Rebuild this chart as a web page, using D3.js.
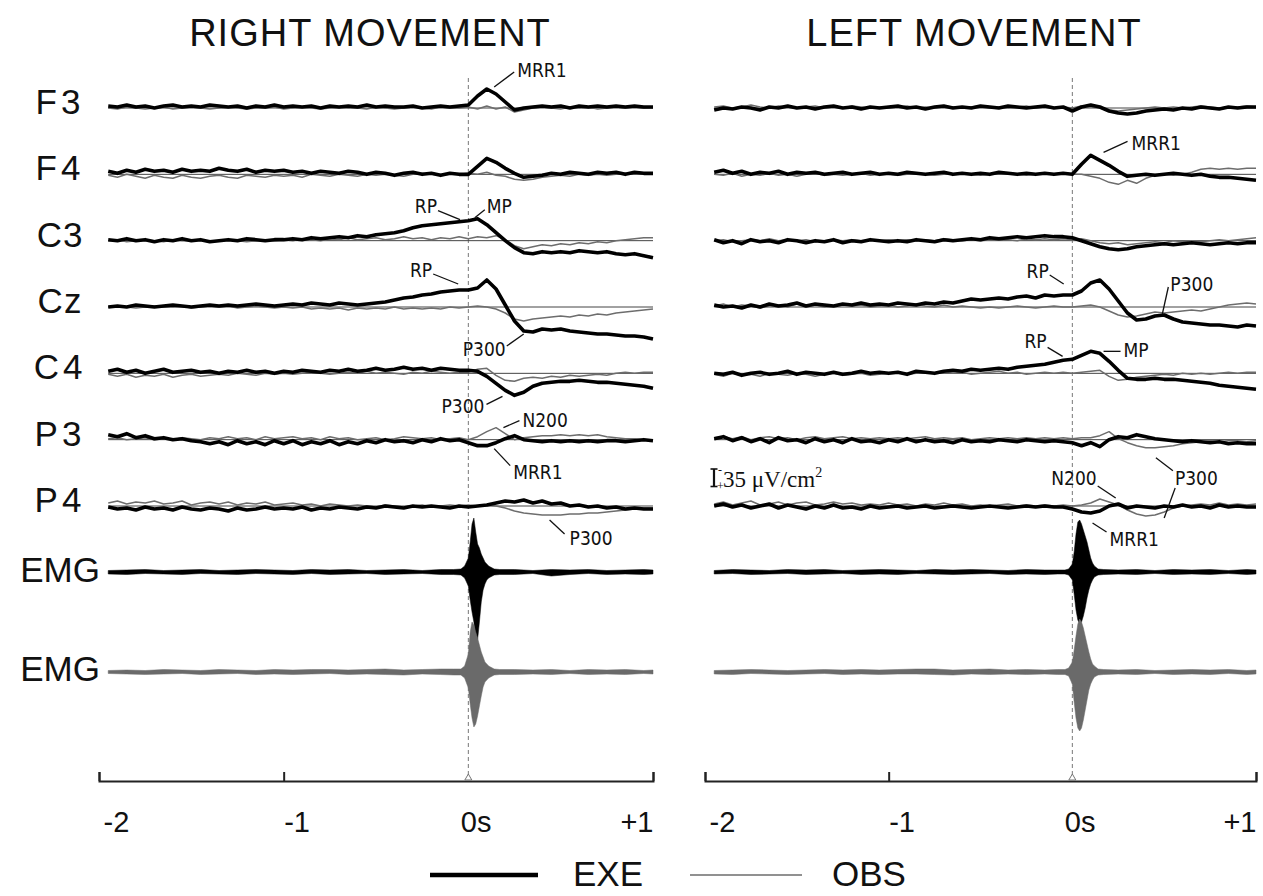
<!DOCTYPE html>
<html>
<head>
<meta charset="utf-8">
<script src="https://cdn.jsdelivr.net/npm/d3@7"></script>
<style>
html,body{margin:0;padding:0;background:#fff;}
svg{display:block;}
.title{font-family:"Liberation Sans",Arial,sans-serif;font-size:38px;letter-spacing:1px;fill:#111;}
.chan{font-family:"Liberation Sans",Arial,sans-serif;font-size:35px;fill:#111;}
.ann{font-family:"Liberation Sans Narrow","Arial Narrow","DejaVu Sans Condensed",sans-serif;font-size:19px;fill:#111;}
.taxis .tick text{font-family:"Liberation Sans",Arial,sans-serif;font-size:29px;fill:#111;}
.legend{font-family:"Liberation Sans",Arial,sans-serif;font-size:35px;fill:#111;}
.scalebar{font-family:"Liberation Serif","Times New Roman",serif;fill:#111;}
</style>
</head>
<body>
<svg id="chart" width="1263" height="896"></svg>
<script>
// ---------------- DATA ----------------
const channels = ["F3","F4","C3","Cz","C4","P3","P4"];
// EEG sample times (s): -1.95 ... 1.00, every 0.05 s
const times = d3.range(60).map(i => +(-1.95 + 0.05 * i).toFixed(2));
const tickValues = [-2, -1, 0, 1];
const tickLabels = ["-2", "-1", "0s", "+1"];

// Values in µV/cm², negative drawn upward (scale bar: - up, + down)
// RIGHT MOVEMENT, EXE (black)
const rightF3Exe = [-4,-2,-6,-2,-4,0,-4,-6,-2,-4,-2,-6,-4,-2,-4,0,-4,-2,-6,-2,-4,-2,-4,0,-4,-2,-4,-2,-6,-2,-4,-2,-2,-4,0,-2,-4,-2,-4,-6,-24,-38,-28,-12,4,0,-2,-4,-2,-4,0,-4,-2,-4,-2,-4,-2,-4,-2,-2];
const rightF4Exe = [-6,-2,-8,-4,-10,-6,-8,-4,-10,-6,-8,-6,-12,-8,-6,-10,-4,-8,-6,-8,-4,-6,-2,-6,-4,-2,-6,-4,0,-4,-2,2,-2,-4,0,-2,2,-2,0,0,-16,-32,-24,-12,-2,6,4,2,-2,0,-4,-2,0,-4,-2,-4,0,-4,-2,-2];
const rightC3Exe = [-2,0,-4,0,-2,2,-2,0,-4,0,-2,2,0,-2,0,-4,-2,0,-2,-2,-4,-2,-6,-4,-6,-8,-6,-10,-8,-12,-14,-16,-20,-26,-30,-32,-34,-36,-38,-40,-44,-32,-16,0,14,24,26,22,24,22,24,20,22,24,22,26,28,26,30,34];
const rightCzExe = [0,-2,0,-4,-2,0,-2,-4,-2,0,-2,-4,-2,-4,-2,-4,-6,-4,-2,-4,-6,-4,-8,-6,-4,-8,-6,-4,-6,-8,-10,-14,-18,-20,-24,-26,-30,-32,-34,-34,-38,-54,-36,-4,28,48,50,44,46,44,48,50,52,54,54,56,58,58,60,64];
const rightC4Exe = [-4,-8,-2,-6,0,-4,-8,-2,-4,-6,-2,-4,0,-4,-2,-6,-2,-4,0,-4,-2,-6,-4,-2,-6,-4,-8,-4,-6,-10,-6,-8,-12,-8,-10,-6,-10,-8,-6,-6,-4,6,20,34,44,38,26,20,18,16,16,14,16,18,18,20,22,24,26,30];
const rightP3Exe = [-10,-6,-12,-4,-8,-2,-4,0,-2,2,4,8,4,10,2,8,4,10,2,8,2,10,4,8,2,10,4,8,2,6,0,4,2,6,0,4,-2,2,0,6,12,12,6,-2,-8,0,2,4,2,4,2,4,2,4,2,2,4,2,0,2];
const rightP4Exe = [2,6,4,8,2,6,4,8,2,6,8,4,6,10,4,8,6,2,6,4,6,2,8,4,6,2,4,6,2,4,0,2,4,0,2,0,2,4,0,2,0,-2,-6,-10,-8,-12,-6,-10,-4,-6,0,-2,2,0,4,2,6,4,6,6];
// RIGHT MOVEMENT, OBS (grey)
const rightF3Obs = [0,2,-2,0,2,0,-2,2,0,-2,0,2,0,-2,0,2,0,0,-2,2,0,-2,0,2,0,-2,0,0,2,-2,0,2,0,-2,0,2,-2,0,0,-2,2,-4,2,-2,8,4,0,-2,0,2,-2,0,-2,2,0,-2,0,-2,0,-2];
const rightF4Obs = [2,6,0,4,8,2,6,8,2,6,8,4,2,6,8,2,4,6,2,4,2,6,0,2,4,0,2,4,0,2,0,2,4,0,-2,0,2,0,0,-2,0,-4,2,4,10,12,10,6,4,2,4,0,2,0,2,0,-2,0,0,0];
const rightC3Obs = [0,-2,2,0,-2,0,2,-2,0,0,-2,2,0,-2,0,2,0,-2,0,-2,0,-4,-2,0,-4,-2,-6,-2,-4,-6,-2,-4,-8,-4,-6,-2,-6,-4,-8,-4,-8,-6,-10,-2,10,16,12,8,10,6,8,4,6,2,4,0,-2,-4,-6,-6];
const rightCzObs = [0,-2,0,2,0,-2,0,0,-2,2,0,-2,0,-2,2,0,-2,0,2,0,2,0,4,2,4,2,6,2,4,2,4,0,4,2,4,2,4,0,2,0,-2,0,4,12,24,28,24,22,20,18,20,16,18,14,16,12,10,8,6,4];
const rightC4Obs = [2,6,2,8,4,6,2,8,4,2,6,4,2,4,0,2,4,0,2,0,2,0,-2,0,2,0,-2,0,-4,0,-2,0,2,-2,0,-4,-2,0,-2,-2,-8,-10,4,14,16,10,8,10,6,8,4,6,4,2,4,0,-2,0,-2,-2];
const rightP3Obs = [-2,-4,0,-2,-4,0,-2,0,-4,-2,0,-4,-2,-6,-2,-4,0,-6,-2,-4,-6,-2,-4,0,-6,-2,-4,0,-2,-4,0,-2,-6,-4,-2,-4,0,-2,-4,0,-6,-16,-24,-12,0,-4,-6,-8,-8,-10,-8,-10,-8,-10,-6,-4,-2,-2,0,0];
const rightP4Obs = [-6,-10,-4,-8,-6,-10,-4,-6,-10,-2,-6,-8,-4,-8,-2,-6,-4,-8,-2,-4,-6,-2,-4,0,-4,-2,0,-2,0,2,-2,0,2,0,-2,2,0,-2,0,-2,0,-2,0,4,10,14,16,18,18,18,16,16,14,14,12,10,8,6,4,4];

// LEFT MOVEMENT, EXE (black)
const leftF3Exe = [4,0,2,-2,0,4,-2,0,-4,0,-2,2,-2,-4,0,-2,2,-2,0,-2,-4,0,-2,2,-2,-4,0,-2,0,-4,-2,0,-4,-2,0,-2,-4,0,-2,6,-2,-6,-2,6,10,12,10,6,4,2,4,0,2,-2,0,2,-2,0,-2,-2];
const leftF4Exe = [-4,-8,-2,-6,0,-4,-2,-6,0,-4,-2,-4,0,-2,-4,0,-2,-4,0,-2,0,-4,-2,0,-2,-4,0,-2,0,-2,0,-4,-2,0,-2,0,-2,0,-2,0,-20,-38,-28,-18,-6,4,2,0,2,0,-2,0,2,0,4,6,6,8,10,12];
const leftC3Exe = [-2,4,0,6,-2,2,0,4,-2,0,4,0,2,-2,4,0,2,-2,0,2,0,2,-2,0,2,-2,0,-2,-4,-2,-6,-4,-6,-8,-6,-8,-10,-8,-8,-6,0,6,12,16,18,16,12,10,8,6,8,6,4,6,8,6,4,6,4,4];
const leftCzExe = [-4,0,-2,2,-4,0,-6,-2,-4,-8,-2,-6,-4,-2,-6,-4,-8,-4,-6,-4,-8,-6,-4,-8,-6,-10,-8,-12,-16,-14,-16,-18,-16,-20,-22,-18,-24,-22,-24,-24,-32,-48,-54,-36,-12,12,26,24,18,16,24,30,32,34,36,36,38,40,36,38];
const leftC4Exe = [0,2,-2,4,0,-2,2,0,-4,2,-2,0,2,-2,2,0,-4,0,-2,0,-2,2,-4,-2,0,-4,-6,-4,-8,-6,-8,-10,-8,-12,-14,-16,-18,-22,-26,-28,-36,-44,-40,-24,-6,10,12,12,10,12,12,14,16,18,20,24,26,28,30,32];
const leftP3Exe = [-2,-6,2,-4,4,-2,6,-4,2,0,6,-2,4,0,6,-2,4,2,6,0,4,-2,4,0,4,2,6,0,4,2,4,0,2,4,0,2,4,2,4,6,12,6,14,0,-6,-4,-10,-6,-2,0,2,4,2,4,6,4,8,6,8,8];
const leftP4Exe = [0,-4,2,-2,4,0,-4,4,-2,2,6,0,4,-2,4,2,6,0,4,2,0,4,2,0,4,2,0,2,4,2,0,2,4,2,0,2,0,2,2,6,12,14,10,0,-4,4,0,2,4,0,2,-2,2,0,4,-2,2,0,2,2];
// LEFT MOVEMENT, OBS (grey)
const leftF3Obs = [-2,-4,0,-2,-6,-2,0,-4,-2,0,-2,-4,0,-2,0,-4,-2,0,-2,0,-2,-4,0,-2,0,-4,-2,0,-2,-4,0,-2,0,-2,-4,0,-2,0,-2,0,-4,-2,0,4,6,4,2,0,-2,0,-2,0,-2,-4,-2,0,-2,-2,-4,-2];
const leftF4Obs = [0,2,-2,4,0,2,-2,2,0,4,0,-2,2,0,2,0,-2,2,0,0,2,0,-2,0,2,0,0,-2,0,2,0,-2,0,0,2,0,-2,0,0,0,0,4,8,16,20,12,18,8,2,0,2,0,-4,-10,-12,-10,-12,-10,-12,-12];
const leftC3Obs = [0,-2,2,0,-2,0,-4,0,-2,0,-2,2,0,-2,0,-2,0,-2,0,-2,0,-2,0,-2,0,-4,-2,0,-2,0,-2,-4,-2,0,-4,-2,-4,-2,-4,-2,-4,0,4,6,4,8,6,4,2,4,0,2,0,2,0,-2,0,-2,-4,-6];
const leftCzObs = [-2,-6,0,-4,-2,2,-2,-4,0,-6,-2,-4,0,-2,-6,-2,-4,0,-2,-4,0,-2,-6,-2,0,-4,0,-2,0,2,0,2,0,-2,0,2,0,-2,0,0,-2,-4,0,8,16,20,18,14,10,12,10,8,6,8,4,0,-4,-6,-8,-6];
const leftC4Obs = [2,6,0,4,2,6,0,2,4,0,2,6,2,0,4,2,0,4,2,0,-2,2,0,-2,0,-4,0,-2,2,0,-2,-4,0,-2,2,0,-2,0,-2,0,-2,-4,-6,6,14,12,8,6,4,2,4,0,2,0,2,0,-2,0,-2,-2];
const leftP3Obs = [-4,-6,-2,-6,0,-4,-6,-2,-4,0,-4,-6,-2,-4,-6,-2,-4,-2,-4,-2,-4,-2,-4,-6,-2,-4,-2,-4,0,-2,-4,-2,-4,-2,-4,-2,-4,-2,-4,-2,-4,-4,-8,-16,-2,6,12,16,16,14,12,8,6,4,2,4,2,2,4,2];
const leftP4Obs = [-4,-8,-2,-6,-10,-2,-4,-8,-2,-6,-8,-2,-4,-8,-4,-6,-2,-4,-2,-6,-2,-4,0,-4,-2,-6,-2,-4,0,-2,0,-2,-4,0,-2,0,-2,0,-2,0,-2,-6,-14,-8,-2,8,16,20,18,12,4,0,-2,-4,-2,-6,-2,-4,-2,-4];

// EMG envelopes (arbitrary units, positive up)
const emgTimes = [-1.95,-1.85,-1.75,-1.65,-1.55,-1.45,-1.35,-1.25,-1.15,-1.05,-0.95,-0.85,-0.75,-0.65,-0.55,-0.45,-0.35,-0.25,-0.15,-0.08,-0.04,-0.02,0,0.01,0.02,0.03,0.04,0.05,0.06,0.07,0.08,0.09,0.1,0.11,0.12,0.14,0.17,0.25,0.35,0.45,0.55,0.65,0.75,0.85,0.95,1.0];
const rightEmgExeHi = [1.5,2,2.5,1.5,2,2.5,1.5,2,2.5,2,1.5,2.5,2,2.5,1.5,2,2.5,1.5,2.5,2.5,3,6,14,30,48,54,40,28,24,18,14,10,8,6,5,3,2.5,2.5,1.5,2.5,2,2.5,1.5,2,2.5,2];
const rightEmgExeLo = [-2,-2.5,-1.5,-2,-2.5,-1.5,-2,-2.5,-1.5,-2,-2.5,-1.5,-2.5,-2,-1.5,-2.5,-2,-1.5,-2.5,-2.5,-3,-6,-14,-28,-40,-50,-66,-68,-50,-30,-18,-12,-8,-6,-5,-3,-2.5,-2.5,-1.5,-4,-2.5,-1.5,-2.5,-2,-2.5,-2];
const rightEmgObsHi = [1.5,2,1.5,2.5,2,1.5,2.5,2,1.5,2.5,2,2.5,2.5,2,2.5,3,2,2.5,3,3,3,6,18,40,50,47,40,34,27,20,15,10,8,6,5,3,2.5,2.5,2,2.5,1.5,2.5,2,2.5,1.5,2];
const rightEmgObsLo = [-1.5,-2,-2.5,-2,-1.5,-2.5,-2,-1.5,-2.5,-2,-2.5,-2,-1.5,-2.5,-2,-2.5,-3,-2,-2.5,-3,-3,-6,-16,-32,-46,-55,-52,-44,-34,-24,-15,-10,-8,-6,-5,-3,-2.5,-2.5,-2,-2.5,-1.5,-2.5,-2,-2.5,-1.5,-2];
const leftEmgExeHi = [1.5,2.5,2,1.5,2.5,2,2.5,1.5,2,2.5,2,1.5,2.5,2,2.5,2,1.5,2.5,2,2,2,3,8,20,38,50,52,48,42,36,30,22,14,9,6,3,2.5,2,2.5,1.5,2.5,2,2.5,1.5,2.5,2];
const leftEmgExeLo = [-2,-1.5,-2.5,-2,-1.5,-2.5,-2,-1.5,-2.5,-2,-2.5,-1.5,-2,-2.5,-2,-1.5,-2.5,-2,-2.5,-2,-2,-3,-8,-22,-38,-48,-52,-50,-44,-36,-26,-18,-12,-8,-5,-3,-2.5,-2,-2.5,-1.5,-2.5,-2,-2.5,-1.5,-2.5,-2];
const leftEmgObsHi = [1.5,2,2.5,2,1.5,2,2.5,2,2.5,2,2.5,3,3,2,2.5,3,2,2.5,2,2.5,2.5,4,10,22,36,48,53,50,44,36,28,20,13,8,6,3,2.5,2,2.5,1.5,2,2.5,2,2.5,1.5,2];
const leftEmgObsLo = [-2,-2.5,-1.5,-2,-2.5,-2,-1.5,-2.5,-2,-2.5,-2,-2,-2.5,-3,-2,-2.5,-2,-2.5,-2,-2.5,-2.5,-4,-12,-30,-46,-56,-59,-56,-48,-38,-28,-18,-12,-8,-5,-3,-2.5,-2,-2.5,-1.5,-2.5,-2,-2.5,-1.5,-2.5,-2];

// Component labels: tip at (time, channel, value); leader/text offsets in px
const annotations = [
  {p:"R", ch:"F3", t:0.14,  v:-42, dx:20,  dy:-15, tx:3,  ty:5,  anchor:"start", text:"MRR1"},
  {p:"R", ch:"C3", t:-0.045,v:-42, dx:-22, dy:-9,  tx:-1, ty:2,  anchor:"end",   text:"RP"},
  {p:"R", ch:"C3", t:0.035, v:-46, dx:10,  dy:-8,  tx:2,  ty:3,  anchor:"start", text:"MP"},
  {p:"R", ch:"Cz", t:-0.055,v:-46, dx:-25, dy:-10, tx:-1, ty:3,  anchor:"end",   text:"RP"},
  {p:"R", ch:"Cz", t:0.30,  v:54,  dx:-17, dy:12,  tx:-1, ty:10, anchor:"end",   text:"P300"},
  {p:"R", ch:"C4", t:0.185, v:46,  dx:-16, dy:8,   tx:-2, ty:9,  anchor:"end",   text:"P300"},
  {p:"R", ch:"P3", t:0.19,  v:-24, dx:16,  dy:-7,  tx:3,  ty:6,  anchor:"start", text:"N200"},
  {p:"R", ch:"P3", t:0.14,  v:18,  dx:16,  dy:17,  tx:3,  ty:13, anchor:"start", text:"MRR1"},
  {p:"R", ch:"P4", t:0.44,  v:28,  dx:15,  dy:14,  tx:5,  ty:11, anchor:"start", text:"P300"},
  {p:"L", ch:"F4", t:0.17,  v:-44, dx:24,  dy:-11, tx:4,  ty:9,  anchor:"start", text:"MRR1"},
  {p:"L", ch:"Cz", t:-0.047,v:-46, dx:-14, dy:-9,  tx:-1, ty:3,  anchor:"end",   text:"RP"},
  {p:"L", ch:"Cz", t:0.49,  v:14,  dx:6,   dy:-27, tx:2,  ty:4,  anchor:"start", text:"P300"},
  {p:"L", ch:"C4", t:-0.053,v:-34, dx:-15, dy:-9,  tx:-1, ty:1,  anchor:"end",   text:"RP"},
  {p:"L", ch:"C4", t:0.17,  v:-44, dx:17,  dy:0,   tx:3,  ty:6,  anchor:"start", text:"MP"},
  {p:"L", ch:"P4", t:0.236, v:-16, dx:-18, dy:-12, tx:-1, ty:-1, anchor:"end",   text:"N200"},
  {p:"L", ch:"P3", t:0.455, v:36,  dx:17,  dy:13,  tx:2,  ty:14, anchor:"start", text:"P300"},
  {p:"L", ch:"P4", t:0.5,   v:24,  dx:11,  dy:-30, tx:0,  ty:0,  anchor:"start", text:""},
  {p:"L", ch:"P4", t:0.11,  v:34,  dx:14,  dy:9,   tx:3,  ty:14, anchor:"start", text:"MRR1"}
];

// ---------------- LAYOUT ----------------
const svg = d3.select("#chart");
const rowY = d3.scalePoint().domain(channels).range([108, 506]);
const emgRowY = {exe: 572, obs: 672};
const amp = d3.scaleLinear().domain([-35, 35]).range([-17.5, 17.5]);   // negative up
const emgAmp = d3.scaleLinear().domain([-60, 60]).range([60, -60]);    // positive up
const axisY = 781;

const panels = [
  {key:"R", title:"RIGHT MOVEMENT", titleX:370,
   x: d3.scaleLinear().domain([-2, 1]).range([99, 653]),
   exe:{F3:rightF3Exe,F4:rightF4Exe,C3:rightC3Exe,Cz:rightCzExe,C4:rightC4Exe,P3:rightP3Exe,P4:rightP4Exe},
   obs:{F3:rightF3Obs,F4:rightF4Obs,C3:rightC3Obs,Cz:rightCzObs,C4:rightC4Obs,P3:rightP3Obs,P4:rightP4Obs},
   emg:{exeHi:rightEmgExeHi, exeLo:rightEmgExeLo, obsHi:rightEmgObsHi, obsLo:rightEmgObsLo}},
  {key:"L", title:"LEFT MOVEMENT", titleX:974,
   x: d3.scaleLinear().domain([-2, 1]).range([705, 1256]),
   exe:{F3:leftF3Exe,F4:leftF4Exe,C3:leftC3Exe,Cz:leftCzExe,C4:leftC4Exe,P3:leftP3Exe,P4:leftP4Exe},
   obs:{F3:leftF3Obs,F4:leftF4Obs,C3:leftC3Obs,Cz:leftCzObs,C4:leftC4Obs,P3:leftP3Obs,P4:leftP4Obs},
   emg:{exeHi:leftEmgExeHi, exeLo:leftEmgExeLo, obsHi:leftEmgObsHi, obsLo:leftEmgObsLo}}
];
const panelByKey = {R: panels[0], L: panels[1]};

// channel labels
channels.forEach(ch => {
  svg.append("text").attr("class","chan").attr("x",60).attr("y",rowY(ch)+6)
    .attr("text-anchor","middle").attr("letter-spacing", ch==="Cz"||ch==="C3" ? 1 : 4).text(ch);
});
svg.append("text").attr("class","chan").attr("x",60).attr("y",emgRowY.exe+10).attr("text-anchor","middle").text("EMG");
svg.append("text").attr("class","chan").attr("x",60).attr("y",emgRowY.obs+9).attr("text-anchor","middle").text("EMG");

panels.forEach(p => {
  const x = p.x;
  // title
  svg.append("text").attr("class","title").attr("x",p.titleX).attr("y",46)
    .attr("text-anchor","middle").text(p.title);
  // movement onset dashed line
  svg.append("line").attr("x1",x(0)).attr("x2",x(0)).attr("y1",78).attr("y2",axisY-6)
    .attr("stroke","#777").attr("stroke-width",1).attr("stroke-dasharray","4,3");

  const g = svg.append("g");
  channels.forEach(ch => {
    const b = rowY(ch);
    g.append("line").attr("x1",x(times[0])).attr("x2",x(times[times.length-1]))
      .attr("y1",b).attr("y2",b).attr("stroke","#444").attr("stroke-width",1);
    const line = d3.line().x((d,i) => x(times[i])).y(d => b + amp(d));
    g.append("path").attr("d", line(p.obs[ch])).attr("fill","none")
      .attr("stroke","#6d6d6d").attr("stroke-width",1.5).attr("stroke-linejoin","round");
    g.append("path").attr("d", line(p.exe[ch])).attr("fill","none")
      .attr("stroke","#000").attr("stroke-width",3.6).attr("stroke-linejoin","round");
  });

  // EMG
  const emgArea = (hi, lo, b) => d3.area()
      .x((d,i) => x(emgTimes[i]))
      .y0((d,i) => b + emgAmp(lo[i]))
      .y1((d,i) => b + emgAmp(hi[i]))(hi);
  g.append("path").attr("d", emgArea(p.emg.exeHi, p.emg.exeLo, emgRowY.exe))
    .attr("fill","#000").attr("stroke","#000").attr("stroke-width",0.5);
  g.append("path").attr("d", emgArea(p.emg.obsHi, p.emg.obsLo, emgRowY.obs))
    .attr("fill","#6a6a6a").attr("stroke","#6a6a6a").attr("stroke-width",0.5);

  // time axis
  const axis = d3.axisBottom(x).tickValues(tickValues)
    .tickFormat((d,i) => tickLabels[i]).tickSize(-9).tickSizeOuter(-9);
  const ga = svg.append("g").attr("class","taxis").attr("transform",`translate(0,${axisY})`).call(axis);
  ga.select(".domain").attr("stroke","#222").attr("stroke-width",2).attr("fill","none");
  ga.selectAll(".tick line").attr("stroke","#222").attr("stroke-width",2)
    .attr("opacity", d => d === 0 ? 0 : 1);
  ga.selectAll(".tick text").attr("y",51).attr("dy",0)
    .attr("text-anchor", d => d === 1 ? "end" : "start")
    .attr("dx", d => d === 0 ? -8 : (d === -2 ? 4 : 0));
  // onset marker on axis
  svg.append("path")
    .attr("d", `M${x(0)-3.5},${axisY-1}L${x(0)},${axisY-7}L${x(0)+3.5},${axisY-1}Z`)
    .attr("fill","#fff").attr("stroke","#777").attr("stroke-width",1);
});

// annotations
annotations.forEach(a => {
  const p = panelByKey[a.p];
  const x0 = p.x(a.t), y0 = rowY(a.ch) + amp(a.v);
  const x1 = x0 + a.dx, y1 = y0 + a.dy;
  svg.append("line").attr("x1",x0).attr("y1",y0).attr("x2",x1).attr("y2",y1)
    .attr("stroke","#111").attr("stroke-width",1.3);
  if (a.text) {
    svg.append("text").attr("class","ann").attr("x",x1+a.tx).attr("y",y1+a.ty)
      .attr("text-anchor",a.anchor).text(a.text);
  }
});

// scale bar (35 µV/cm²) in left panel
{
  const sx = 714, sTop = 469;
  const len = amp(35) - amp(0);
  const sb = svg.append("g").attr("class","scalebar");
  sb.append("line").attr("x1",sx).attr("x2",sx).attr("y1",sTop).attr("y2",sTop+len)
    .attr("stroke","#111").attr("stroke-width",2.2);
  sb.append("line").attr("x1",sx-3.5).attr("x2",sx+3.5).attr("y1",sTop).attr("y2",sTop).attr("stroke","#111").attr("stroke-width",1.6);
  sb.append("line").attr("x1",sx-3.5).attr("x2",sx+3.5).attr("y1",sTop+len).attr("y2",sTop+len).attr("stroke","#111").attr("stroke-width",1.6);
  sb.append("text").attr("x",sx+4).attr("y",sTop+5).attr("font-size",12).text("-");
  sb.append("text").attr("x",sx+3).attr("y",sTop+len+3).attr("font-size",12).text("+");
  const st = sb.append("text").attr("x",sx+9).attr("y",sTop+len).attr("font-size",23);
  st.append("tspan").text("35 \u03BCV/cm");
  st.append("tspan").attr("font-size",14).attr("dy",-10).text("2");
}

// legend
svg.append("line").attr("x1",430).attr("x2",538).attr("y1",875).attr("y2",875)
  .attr("stroke","#000").attr("stroke-width",4.5);
svg.append("text").attr("class","legend").attr("x",573).attr("y",886).text("EXE");
svg.append("line").attr("x1",690).attr("x2",802).attr("y1",875).attr("y2",875)
  .attr("stroke","#6d6d6d").attr("stroke-width",1.6);
svg.append("text").attr("class","legend").attr("x",832).attr("y",886).text("OBS");
</script>
</body>
</html>
